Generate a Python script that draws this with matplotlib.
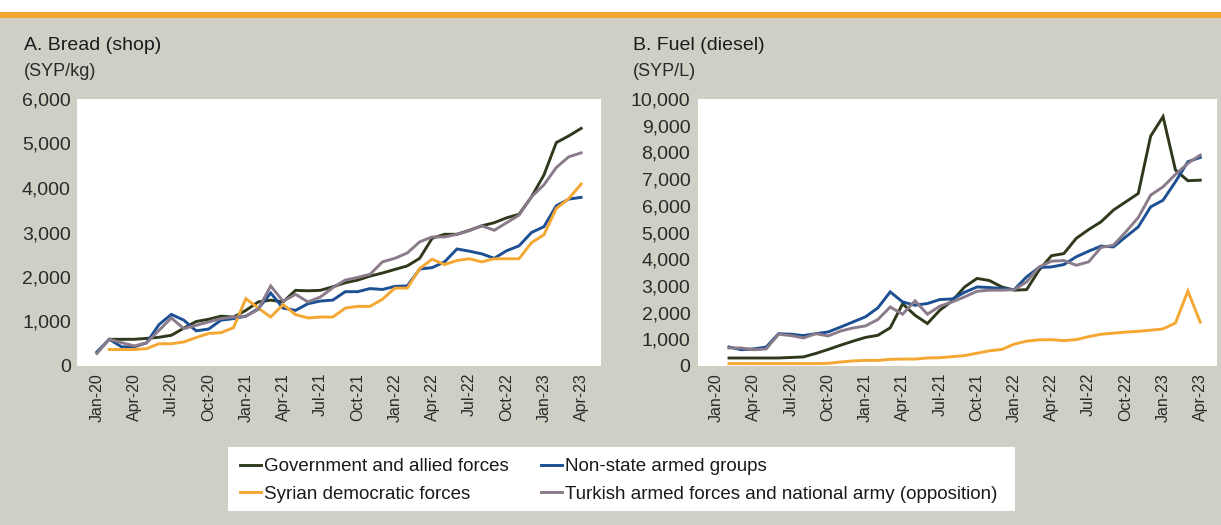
import numpy as np
import matplotlib.pyplot as plt
from matplotlib import font_manager
from matplotlib.patches import Rectangle

nan = np.nan

# month index 0 = Jan-20 ... 39 = Apr-23
tick_pos = list(range(0, 40, 3))
tick_labels = ['Jan-20', 'Apr-20', 'Jul-20', 'Oct-20', 'Jan-21', 'Apr-21', 'Jul-21',
               'Oct-21', 'Jan-22', 'Apr-22', 'Jul-22', 'Oct-22', 'Jan-23', 'Apr-23']

series_names = ['Government and allied forces', 'Non-state armed groups',
                'Syrian democratic forces', 'Turkish armed forces and national army (opposition)']

# A. Bread (shop), SYP/kg
bread_gov = [nan, 600, 600, 600, 620, 645, 690, 850, 1000, 1050,
             1120, 1100, 1250, 1440, 1480, 1440, 1700, 1690, 1700, 1780,
             1870, 1930, 2020, 2090, 2170, 2250, 2420, 2870, 2960, 2960,
             3050, 3150, 3220, 3330, 3410, 3800, 4290, 5020, 5170, 5340]
bread_nsag = [315, 600, 430, 430, 520, 930, 1160, 1030, 790, 830,
              1030, 1065, 1120, 1290, 1640, 1300, 1250, 1400, 1460, 1480,
              1670, 1670, 1740, 1720, 1790, 1800, 2180, 2210, 2340, 2630,
              2580, 2520, 2420, 2590, 2700, 3000, 3130, 3600, 3750, 3790]
bread_sdf = [nan, 370, 370, 370, 390, 500, 500, 540, 640, 730,
             750, 860, 1515, 1300, 1100, 1380, 1155, 1080, 1100, 1100,
             1300, 1340, 1340, 1500, 1750, 1750, 2190, 2400, 2280, 2370,
             2410, 2340, 2410, 2410, 2410, 2770, 2950, 3540, 3760, 4090]
bread_turk = [280, 600, 525, 450, 520, 800, 1080, 840, 915, 990,
              1065, 1100, 1120, 1270, 1800, 1455, 1610, 1440, 1550, 1760,
              1930, 1990, 2060, 2340, 2420, 2540, 2790, 2900, 2900, 2960,
              3040, 3150, 3050, 3220, 3390, 3800, 4070, 4460, 4700, 4790]

# B. Fuel (diesel), SYP/L
fuel_gov = [nan, 300, 300, 300, 300, 300, 320, 340, 470, 620,
            780, 930, 1070, 1150, 1430, 2330, 1900, 1590, 2090, 2440,
            2960, 3280, 3200, 2960, 2840, 2860, 3590, 4130, 4210, 4780,
            5110, 5400, 5840, 6150, 6460, 8610, 9340, 7340, 6940, 6960]
fuel_nsag = [nan, 710, 610, 640, 710, 1210, 1190, 1140, 1210, 1275,
             1460, 1650, 1840, 2175, 2775, 2400, 2275, 2340, 2490, 2510,
             2760, 2960, 2940, 2900, 2860, 3340, 3690, 3710, 3800, 4090,
             4300, 4490, 4460, 4840, 5210, 5960, 6210, 6900, 7650, 7810]
fuel_sdf = [nan, 90, 90, 90, 90, 90, 90, 90, 90, 100,
            150, 190, 210, 210, 250, 260, 260, 300, 310, 350,
            390, 480, 570, 620, 820, 930, 980, 985, 950, 990,
            1100, 1190, 1230, 1270, 1300, 1340, 1390, 1610, 2810, 1640]
fuel_turk = [nan, 675, 675, 610, 640, 1190, 1140, 1050, 1210, 1125,
             1310, 1425, 1500, 1740, 2210, 1940, 2440, 1940, 2240, 2400,
             2590, 2800, 2840, 2840, 2860, 3150, 3710, 3925, 3950, 3775,
             3900, 4440, 4525, 5025, 5560, 6400, 6710, 7175, 7590, 7900]

colors = ['#2f3a1d', '#1c4f93', '#f4a833', '#8a7b8b']

installed = {f.name for f in font_manager.fontManager.ttflist}
narrow = 'Liberation Sans Narrow' if 'Liberation Sans Narrow' in installed else 'Liberation Sans'
plt.rcParams['font.family'] = [narrow, 'DejaVu Sans']

W, H = 1221, 525
bg = '#cfcfc6'
fig = plt.figure(figsize=(W / 100, H / 100), dpi=100, facecolor=bg)

# white strip and orange rule at the top
fig.patches.append(Rectangle((0, 1 - 12 / H), 1, 12 / H, transform=fig.transFigure,
                             facecolor='white', edgecolor='none'))
fig.patches.append(Rectangle((0, 1 - 17.5 / H), 1, 5.5 / H, transform=fig.transFigure,
                             facecolor='#f3a532', edgecolor='none'))


def panel(rect, series, ymax, xlim, ypad):
    ax = fig.add_axes(rect)
    ax.set_facecolor('white')
    x = np.arange(40)
    lines = []
    for vals, c in zip(series, colors):
        ln, = ax.plot(x, vals, color=c, lw=2.1, solid_joinstyle='miter')
        lines.append(ln)
    ax.set_xlim(*xlim)
    ax.set_ylim(0, ymax)
    ax.set_yticks(np.arange(0, ymax + 1, 1000))
    ax.set_yticklabels([f'{v:,}' for v in range(0, ymax + 1, 1000)])
    ax.set_xticks(tick_pos)
    ax.set_xticklabels(tick_labels, rotation=90)
    ax.tick_params(axis='y', length=0, pad=ypad, labelsize=14, labelcolor='#2a2a2a')
    ax.tick_params(axis='x', length=0, pad=5, labelsize=11.5, labelcolor='#2a2a2a')
    for s in ax.spines.values():
        s.set_visible(False)
    return ax, lines


ax1, lines = panel([77 / W, 1 - 366 / H, 524 / W, 267 / H],
                   [bread_gov, bread_nsag, bread_sdf, bread_turk], 6000, (-1.6, 40.6), 4.5)
ax2, _ = panel([698 / W, 1 - 366 / H, 519 / W, 267 / H],
               [fuel_gov, fuel_nsag, fuel_sdf, fuel_turk], 10000, (-1.5, 40.35), 5.5)

fig.text(24 / W, 1 - 45 / H, 'A. Bread (shop)', fontsize=14, va='center', color='#1a1a1a')
fig.text(24 / W, 1 - 72 / H, '(SYP/kg)', fontsize=13, va='center', color='#2a2a2a')
fig.text(633 / W, 1 - 45 / H, 'B. Fuel (diesel)', fontsize=14, va='center', color='#1a1a1a')
fig.text(633 / W, 1 - 72 / H, '(SYP/L)', fontsize=13, va='center', color='#2a2a2a')

# legend box
fig.patches.append(Rectangle((228 / W, 1 - 511 / H), (1015 - 228) / W, 64 / H,
                             transform=fig.transFigure, facecolor='white', edgecolor='none'))
leg_kw = dict(frameon=False, loc='upper left', fontsize=13.5, handlelength=1.1,
              handletextpad=0.2, labelspacing=0.55, borderpad=0, borderaxespad=0,
              labelcolor='#1a1a1a')
fig.legend([lines[0], lines[2]], [series_names[0], series_names[2]],
           bbox_to_anchor=(240 / W, 1 - 458 / H), **leg_kw)
fig.legend([lines[1], lines[3]], [series_names[1], series_names[3]],
           bbox_to_anchor=(541 / W, 1 - 458 / H), **leg_kw)

fig.savefig('out.png', dpi=100, facecolor=bg)
